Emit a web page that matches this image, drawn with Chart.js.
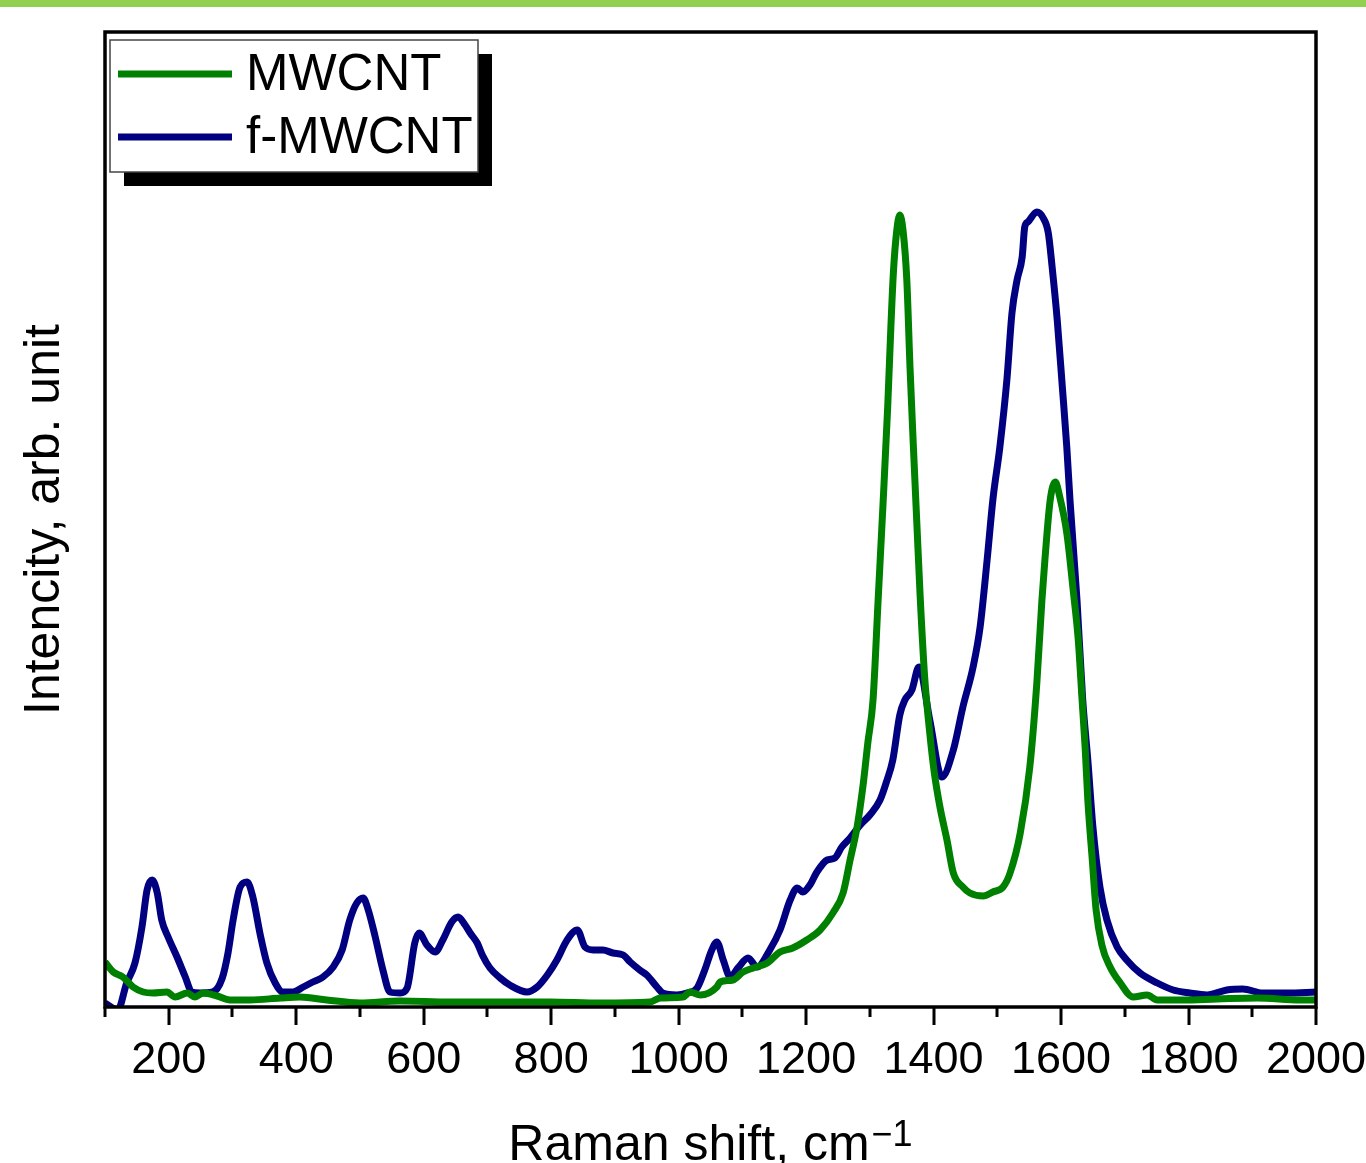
<!DOCTYPE html>
<html>
<head>
<meta charset="utf-8">
<script src="https://cdn.jsdelivr.net/npm/chart.js@4.4.0/dist/chart.umd.min.js"></script>
<style>
  html, body { margin: 0; padding: 0; background: #ffffff; }
  #wrap { width: 1366px; height: 1163px; }
</style>
</head>
<body>
<div id="wrap"><canvas id="c" width="1366" height="1163"></canvas></div>
<script>
// ---- data ----
const seriesLabels = ['MWCNT', 'f-MWCNT'];

const mwcntShift = [100,113,128,144,160,175,197,210,229,241,
  254,276,296,328,375,406,448,500,563,641,
  720,798,877,955,971,1007,1018,1034,1060,1065,
  1085,1101,1117,1139,1159,1179,1201,1222,1242,1258,
  1269,1280,1290,1297,1305,1313,1321,1328,1333,1337,
  1342,1347,1352,1358,1363,1368,1374,1379,1386,1394,
  1401,1410,1421,1431,1446,1457,1478,1493,1509,1520,
  1536,1551,1562,1570,1575,1583,1591,1598,1609,1619,
  1627,1633,1638,1642,1649,1655,1664,1677,1693,1713,
  1735,1751,1791,1845,1908,1975,2000];
const mwcntIntensity = [45,35,30,20,15,14,15,10,14,10,
  14,11,7,7,9,10,7,4,6,5,
  5,5,4,5,9,10,15,12,20,25,
  27,35,39,44,55,59,67,77,94,114,
  147,180,225,265,307,407,507,600,680,735,
  775,792,777,727,640,565,480,410,330,274,
  235,200,167,134,120,114,111,115,120,134,
  174,240,324,407,450,507,525,510,474,417,
  367,307,257,207,147,97,62,40,24,10,
  12,7,7,8,9,7,7];

const fmwcntShift = [100,120,134,147,158,166,174,182,189,199,
  213,226,236,249,269,284,293,301,312,323,
  332,343,354,367,379,395,411,426,442,458,
  472,484,495,505,513,524,536,547,563,574,
  586,593,605,618,630,644,654,665,673,684,
  692,704,720,735,762,778,794,809,825,841,
  853,866,881,897,913,924,939,950,966,975,
  997,1013,1029,1041,1052,1060,1070,1081,1093,1109,
  1123,1143,1159,1175,1186,1195,1206,1217,1233,1245,
  1256,1269,1285,1300,1316,1327,1336,1347,1355,1366,
  1377,1394,1413,1431,1446,1462,1473,1484,1493,1504,
  1515,1523,1531,1539,1543,1548,1562,1572,1580,1586,
  1594,1602,1609,1614,1625,1634,1642,1650,1661,1672,
  1688,1703,1724,1751,1776,1802,1829,1860,1885,1917,
  1955,2000];
const fmwcntIntensity = [4,-3,24,44,80,117,127,114,87,70,
  50,30,15,14,15,29,54,87,120,125,
  110,74,44,24,15,15,20,25,30,40,
  57,87,104,109,97,70,37,15,14,19,
  64,74,62,55,67,85,90,82,74,64,
  52,39,29,22,15,20,32,47,67,77,
  60,57,57,54,52,45,37,32,20,14,
  12,14,19,37,57,65,47,30,39,49,
  40,57,77,107,119,115,122,135,147,149,
  160,169,182,192,207,227,247,292,307,317,
  340,287,230,257,300,340,380,447,507,560,
  627,694,727,750,780,785,795,789,774,740,
  687,620,560,507,407,307,247,180,120,87,
  60,47,34,24,17,14,12,17,18,14,
  14,15];

const xMin = 100, xMax = 2000, xMinorStep = 100, xMajorStep = 200;
const yMin = 0, yMax = 975;
const xTitle = 'Raman shift, cm';
const xTitleSup = '\u22121';
const yTitle = 'Intencity, arb. unit';

const FONT = '"Liberation Sans", Arial, Helvetica, sans-serif';

function toPoints(xs, ys) { return xs.map((x, i) => ({ x: x, y: ys[i] })); }

const decorPlugin = {
  id: 'decor',
  beforeDraw(chart) {
    const ctx = chart.ctx;
    ctx.save();
    ctx.fillStyle = '#ffffff';
    ctx.fillRect(0, 0, chart.width, chart.height);
    ctx.restore();
  },
  afterDraw(chart) {
    const ctx = chart.ctx;
    const a = chart.chartArea;
    const xs = chart.scales.x;
    ctx.save();
    // top light green band
    ctx.fillStyle = '#92d050';
    ctx.fillRect(0, 0, chart.width, 7);
    // frame
    ctx.strokeStyle = '#000';
    ctx.lineWidth = 3.5;
    ctx.strokeRect(a.left, a.top, a.right - a.left, a.bottom - a.top);
    // ticks
    ctx.lineWidth = 3;
    ctx.beginPath();
    for (let v = xMin; v <= xMax; v += xMinorStep) {
      const px = Math.round(xs.getPixelForValue(v));
      const len = (v % xMajorStep === 0) ? 18 : 10;
      ctx.moveTo(px, a.bottom);
      ctx.lineTo(px, a.bottom + len);
    }
    ctx.stroke();
    // x title with superscript
    ctx.fillStyle = '#000';
    ctx.textBaseline = 'alphabetic';
    ctx.font = '50px ' + FONT;
    const w1 = ctx.measureText(xTitle).width;
    ctx.font = '36px ' + FONT;
    const w2 = ctx.measureText(xTitleSup).width;
    const cx = (a.left + a.right) / 2;
    const x0 = cx - (w1 + w2 + 2) / 2;
    ctx.font = '50px ' + FONT;
    ctx.textAlign = 'left';
    ctx.fillText(xTitle, x0, 1160);
    ctx.font = '36px ' + FONT;
    ctx.fillText(xTitleSup, x0 + w1 + 2, 1146);
    // legend with shadow
    const bx = a.left + 5, by = a.top + 8, bw = 368, bh = 132, sh = 14;
    ctx.fillStyle = '#000';
    ctx.fillRect(bx + sh, by + sh, bw, bh);
    ctx.fillStyle = '#fff';
    ctx.fillRect(bx, by, bw, bh);
    ctx.strokeStyle = '#444';
    ctx.lineWidth = 1.5;
    ctx.strokeRect(bx, by, bw, bh);
    const rows = [by + 34, by + 97];
    chart.data.datasets.forEach((ds, i) => {
      ctx.strokeStyle = ds.borderColor;
      ctx.lineWidth = 7;
      ctx.beginPath();
      ctx.moveTo(bx + 8, rows[i]);
      ctx.lineTo(bx + 122, rows[i]);
      ctx.stroke();
      ctx.fillStyle = '#000';
      ctx.font = '51px ' + FONT;
      ctx.textAlign = 'left';
      ctx.textBaseline = 'middle';
      ctx.fillText(ds.label, bx + 136, rows[i] + 2);
    });
    ctx.restore();
  }
};

new Chart(document.getElementById('c'), {
  type: 'line',
  data: {
    datasets: [
      {
        label: seriesLabels[0],
        data: toPoints(mwcntShift, mwcntIntensity),
        borderColor: '#008000',
        borderWidth: 7,
        pointRadius: 0,
        fill: false,
        cubicInterpolationMode: 'monotone'
      },
      {
        label: seriesLabels[1],
        data: toPoints(fmwcntShift, fmwcntIntensity),
        borderColor: '#000080',
        borderWidth: 7,
        pointRadius: 0,
        fill: false,
        cubicInterpolationMode: 'monotone'
      }
    ]
  },
  options: {
    responsive: false,
    animation: false,
    devicePixelRatio: 1,
    layout: { padding: { left: 0, top: 32, right: 50, bottom: 0 } },
    plugins: {
      legend: { display: false },
      tooltip: { enabled: false },
      title: { display: false }
    },
    scales: {
      x: {
        type: 'linear',
        position: 'bottom',
        min: xMin,
        max: xMax,
        afterFit(s) { s.height = 156; s.paddingLeft = 0; s.paddingRight = 0; },
        afterBuildTicks(s) {
          const t = [];
          for (let v = xMin; v <= xMax; v += xMinorStep) t.push({ value: v });
          s.ticks = t;
        },
        ticks: {
          autoSkip: false,
          maxRotation: 0,
          minRotation: 0,
          padding: 27,
          color: '#000',
          font: { family: FONT, size: 45 },
          callback: (v) => (v % xMajorStep === 0 ? String(v) : '')
        },
        grid: { display: false, drawTicks: false },
        border: { display: false }
      },
      y: {
        type: 'linear',
        position: 'left',
        min: yMin,
        max: yMax,
        afterFit(s) { s.width = 105; s.paddingTop = 0; s.paddingBottom = 0; },
        ticks: { display: false },
        grid: { display: false, drawTicks: false },
        border: { display: false },
        title: {
          display: true,
          text: yTitle,
          color: '#000',
          font: { family: FONT, size: 50 },
          padding: { top: 15, bottom: 0 }
        }
      }
    }
  },
  plugins: [decorPlugin]
});
</script>
</body>
</html>
